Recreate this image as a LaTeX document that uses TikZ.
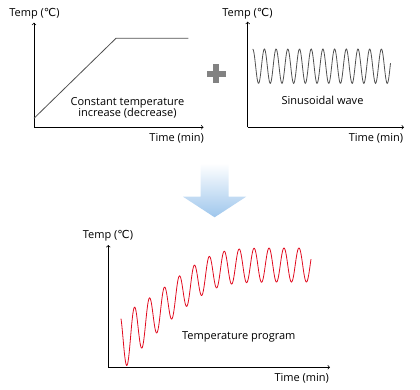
\documentclass[tikz,border=0pt]{standalone}
\usepackage{fontspec}
\setmainfont{Open Sans}
\newfontfamily\degfont{DejaVu Sans}
\usetikzlibrary{arrows}
\definecolor{wavegray}{RGB}{80,80,80}
\definecolor{progred}{RGB}{225,10,30}
\definecolor{arrowblue}{RGB}{158,198,236}
\definecolor{plusgray}{RGB}{130,130,130}
\tikzset{axisline/.style={->, line width=0.7pt},
  lbl/.style={font=\fontsize{11}{11}\selectfont, inner sep=0pt}}
\newcommand{\tempC}{Temp ({\degfont ℃})}

\begin{document}
\begin{tikzpicture}[x=1pt, y=-1pt]
      \useasboundingbox (0,0) rectangle (420,390);

      \coordinate (o1) at (34,127.3);
      \coordinate (y1) at (34,22.7);
      \coordinate (x1) at (203.5,127.3);
      \draw [axisline] (o1) -- (y1);
      \draw [axisline] (o1) -- (x1);
      \node [lbl] (temp1) at (34.5,14) {\tempC};
      \node [lbl] (time1) at (176.7,138) {Time (min)};
      \coordinate (r0) at (34,118.3);
      \coordinate (r1) at (116,38.3);
      \coordinate (r2) at (188.3,38.3);
      \draw [wavegray, line width=0.8pt] (r0) -- (r1) -- (r2);
      \node [lbl, align=center] (ramp) at (127.5,108) {Constant temperature\\increase (decrease)};

      \fill [plusgray] (206.5,71) rectangle (225.5,77);
      \fill [plusgray] (213,64.5) rectangle (219,83.5);

      \coordinate (o2) at (247.7,127.3);
      \coordinate (y2) at (247.7,21.7);
      \coordinate (x2) at (404,127.3);
      \draw [axisline] (o2) -- (y2);
      \draw [axisline] (o2) -- (x2);
      \node [lbl] (temp2) at (247.5,14) {\tempC};
      \node [lbl] (time2) at (376,138) {Time (min)};
      \draw [wavegray, line width=0.8pt, domain=252.7:390.5, samples=250]
        plot (\x, {66.2-17.2*cos(((\x-252.7)/11.7)*360)});
      \node [lbl] (sine) at (322.5,100) {Sinusoidal wave};

      \shade [top color=white, bottom color=arrowblue]
        (200.5,163.3) -- (228.7,163.3) -- (228.7,196.7) -- (246.2,196.7)
        -- (214.6,217.3) -- (183,196.7) -- (200.5,196.7) -- cycle;

      \coordinate (o3) at (108.3,367.3);
      \coordinate (y3) at (108.3,245);
      \coordinate (x3) at (330,367.3);
      \draw [axisline] (o3) -- (y3);
      \draw [axisline] (o3) -- (x3);
      \node [lbl] (temp3) at (108,236) {\tempC};
      \node [lbl] (time3) at (301.7,378.3) {Time (min)};
      \draw [progred, line width=0.8pt, domain=121:311, samples=400]
        plot (\x, {265+10.2*ln(1+exp((213-\x)/12))
          -(17+12*exp(-(\x-123)/25))*cos(((\x-134.5)/14.95)*360)});
      \node [lbl] (prog) at (238.8,336.7) {Temperature program};
    \end{tikzpicture}
\end{document}
